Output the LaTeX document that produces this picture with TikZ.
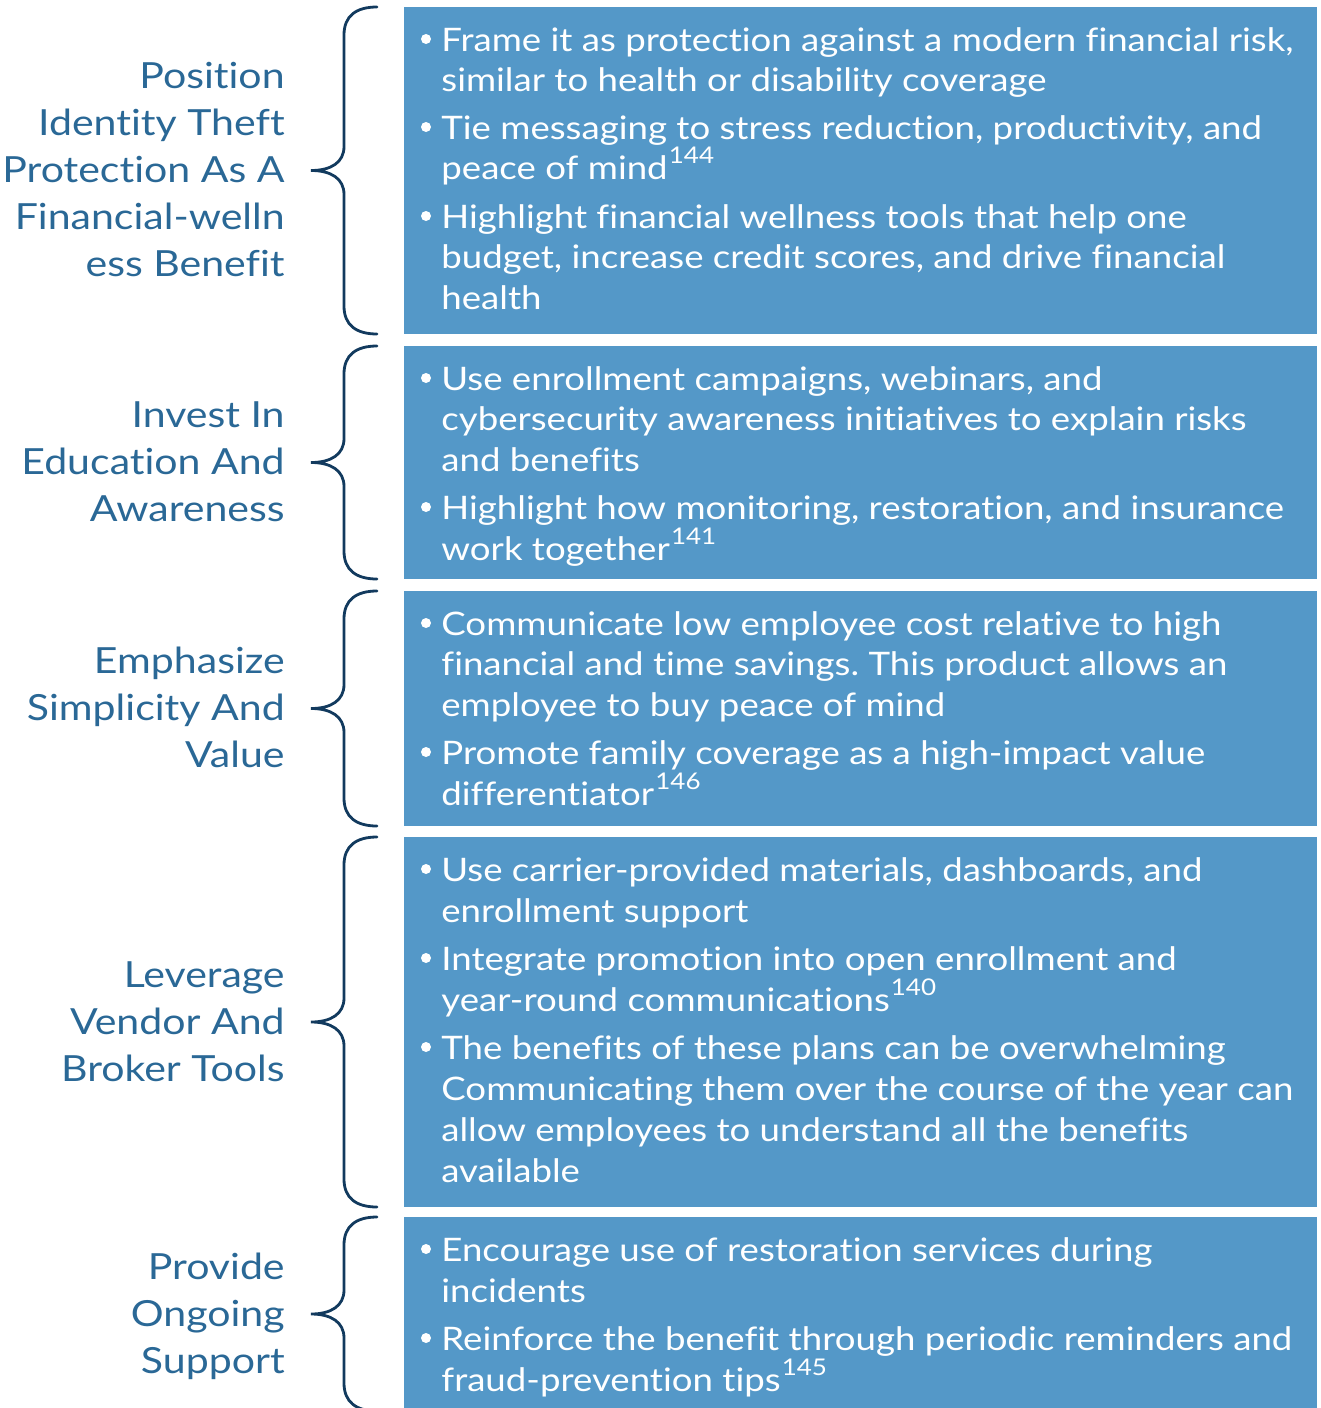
\documentclass[tikz,border=0pt]{standalone}
\usepackage{fontspec}
\setmainfont{Lato}
\newfontfamily\topicfont{Lato}[FakeStretch=1.14,Ligatures={NoCommon,NoContextual},Contextuals=NoAlternate]
\newfontfamily\itemfont{Lato}[FakeStretch=1.13,Ligatures={NoCommon,NoContextual},Contextuals=NoAlternate]
\frenchspacing
\usepackage{xcolor}
\usetikzlibrary{backgrounds}
\pgfdeclarelayer{edgelayer}
\pgfdeclarelayer{nodelayer}
\pgfsetlayers{background,edgelayer,nodelayer,main}
\definecolor{panelblue}{RGB}{84,152,200}
\definecolor{topicblue}{RGB}{42,104,150}
\definecolor{bracenavy}{RGB}{18,58,94}
\tikzstyle{panel}=[fill=panelblue,draw=none]
\tikzstyle{curly}=[draw=bracenavy,line width=1.4pt,line cap=round]
\tikzstyle{topic}=[inner sep=0mm,anchor=base east,text=topicblue,font=\topicfont\fontsize{18}{22}\selectfont]
\tikzstyle{item}=[inner sep=0mm,anchor=base west,text=white,font=\itemfont\fontsize{16.2}{20}\selectfont]
\tikzstyle{bul dot}=[circle,fill=white,draw=none,inner sep=0mm,minimum size=5pt]
\newcommand{\refmark}[1]{\hspace{0.6pt}\raisebox{8pt}{\fontsize{11.5}{11.5}\selectfont #1}}
% left curly brace from y=#1 down to y=#2, tip in the middle
\newcommand{\groupbrace}[2]{%
	\pgfmathsetmacro{\bmid}{(#1+#2)/2}
	\draw[curly] (377,#1) .. controls (356,#1) and (344,#1+9) .. (344,#1+28)
		-- (344,\bmid-24) .. controls (344,\bmid-8) and (331,\bmid) .. (311,\bmid)
		.. controls (331,\bmid) and (344,\bmid+8) .. (344,\bmid+24)
		-- (344,#2-28) .. controls (344,#2-9) and (356,#2) .. (377,#2);}

\begin{document}
\begin{tikzpicture}[x=0.5pt,y=-0.5pt]
	\useasboundingbox (0,0) rectangle (1321,1408);
	\begin{pgfonlayer}{edgelayer}
		\fill[panel] (404,7) rectangle (1317,334);
		\fill[panel] (404,346) rectangle (1317,579);
		\fill[panel] (404,591) rectangle (1317,826);
		\fill[panel] (404,837) rectangle (1317,1207);
		\fill[panel] (404,1217) rectangle (1317,1408);
		\groupbrace{7}{334}
		\groupbrace{346}{579}
		\groupbrace{591}{826}
		\groupbrace{837}{1207}
		\groupbrace{1217}{1411}
	\end{pgfonlayer}
	\begin{pgfonlayer}{nodelayer}
		% topics
		\node [style=topic] (a1) at (285, 88.5) {Position};
		\node [style=topic] (a2) at (285, 135.5) {Identity Theft};
		\node [style=topic] (a3) at (285, 182.5) {Protection As A};
		\node [style=topic] (a4) at (285, 229.5) {Financial-welln};
		\node [style=topic] (a5) at (285, 276.5) {ess Benefit};
		\node [style=topic] (b1) at (285, 427.5) {Invest In};
		\node [style=topic] (b2) at (285, 474.5) {Education And};
		\node [style=topic] (b3) at (285, 521.5) {Awareness};
		\node [style=topic] (c1) at (285, 673.5) {Emphasize};
		\node [style=topic] (c2) at (285, 720.5) {Simplicity And};
		\node [style=topic] (c3) at (285, 767.5) {Value};
		\node [style=topic] (d1) at (285, 987) {Leverage};
		\node [style=topic] (d2) at (285, 1034) {Vendor And};
		\node [style=topic] (d3) at (285, 1081) {Broker Tools};
		\node [style=topic] (e1) at (285, 1279) {Provide};
		\node [style=topic] (e2) at (285, 1326) {Ongoing};
		\node [style=topic] (e3) at (285, 1373) {Support};
		% first panel
		\node [style={bul dot}] (pa1) at (426, 39) {};
		\node [style=item] (ta1) at (441, 51) {Frame it as protection against a modern financial risk,};
		\node [style=item] (ta2) at (441, 91) {similar to health or disability coverage};
		\node [style={bul dot}] (pa2) at (426, 127) {};
		\node [style=item] (ta3) at (441, 139) {Tie messaging to stress reduction, productivity, and};
		\node [style=item] (ta4) at (441, 179) {peace of mind\refmark{144}};
		\node [style={bul dot}] (pa3) at (426, 216) {};
		\node [style=item] (ta5) at (441, 228) {Highlight financial wellness tools that help one};
		\node [style=item] (ta6) at (441, 268) {budget, increase credit scores, and drive financial};
		\node [style=item] (ta7) at (441, 309) {health};
		% second panel
		\node [style={bul dot}] (pb1) at (426, 378) {};
		\node [style=item] (tb1) at (441, 390) {Use enrollment campaigns, webinars, and};
		\node [style=item] (tb2) at (441, 430) {cybersecurity awareness initiatives to explain risks};
		\node [style=item] (tb3) at (441, 471) {and benefits};
		\node [style={bul dot}] (pb2) at (426, 507) {};
		\node [style=item] (tb4) at (441, 519) {Highlight how monitoring, restoration, and insurance};
		\node [style=item] (tb5) at (441, 560) {work together\refmark{141}};
		% third panel
		\node [style={bul dot}] (pc1) at (426, 623) {};
		\node [style=item] (tc1) at (441, 635) {Communicate low employee cost relative to high};
		\node [style=item] (tc2) at (441, 675) {financial and time savings. This product allows an};
		\node [style=item] (tc3) at (441, 716) {employee to buy peace of mind};
		\node [style={bul dot}] (pc2) at (426, 752) {};
		\node [style=item] (tc4) at (441, 764) {Promote family coverage as a high-impact value};
		\node [style=item] (tc5) at (441, 805) {differentiator\refmark{146}};
		% fourth panel
		\node [style={bul dot}] (pd1) at (426, 869) {};
		\node [style=item] (td1) at (441, 881) {Use carrier-provided materials, dashboards, and};
		\node [style=item] (td2) at (441, 922) {enrollment support};
		\node [style={bul dot}] (pd2) at (426, 958) {};
		\node [style=item] (td3) at (441, 970) {Integrate promotion into open enrollment and};
		\node [style=item] (td4) at (441, 1011) {year-round communications\refmark{140}};
		\node [style={bul dot}] (pd3) at (426, 1047) {};
		\node [style=item] (td5) at (441, 1059) {The benefits of these plans can be overwhelming};
		\node [style=item] (td6) at (441, 1100) {Communicating them over the course of the year can};
		\node [style=item] (td7) at (441, 1141) {allow employees to understand all the benefits};
		\node [style=item] (td8) at (441, 1182) {available};
		% fifth panel
		\node [style={bul dot}] (pe1) at (426, 1249) {};
		\node [style=item] (te1) at (441, 1261) {Encourage use of restoration services during};
		\node [style=item] (te2) at (441, 1302) {incidents};
		\node [style={bul dot}] (pe2) at (426, 1338) {};
		\node [style=item] (te3) at (441, 1350) {Reinforce the benefit through periodic reminders and};
		\node [style=item] (te4) at (441, 1391) {fraud-prevention tips\refmark{145}};
	\end{pgfonlayer}
\end{tikzpicture}
\end{document}
